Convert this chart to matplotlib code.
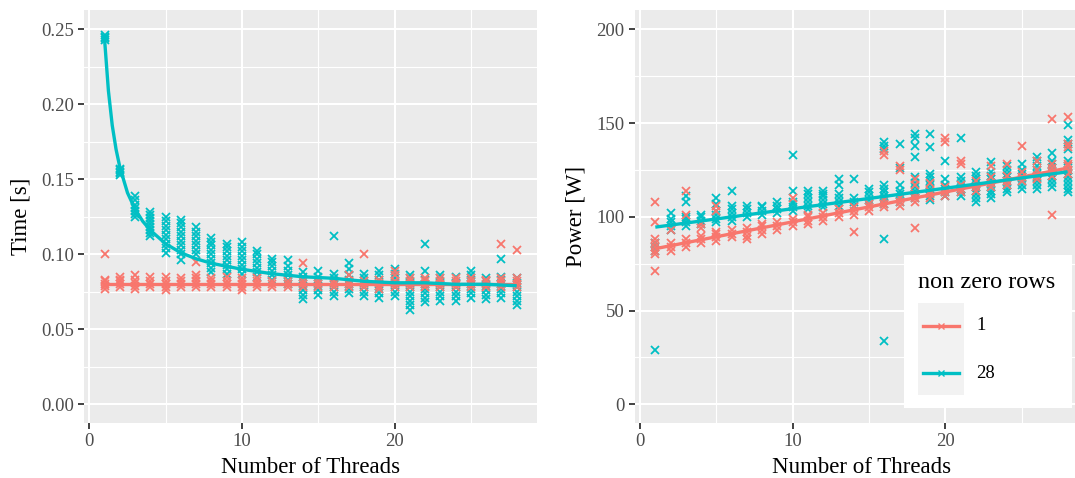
import matplotlib.pyplot as plt
import matplotlib.patches as patches
from matplotlib.lines import Line2D

# --- data ---
threads = list(range(1, 29))

# Time [s], one list of repeated measurements per thread count
time_r1 = [
    [0.077, 0.079, 0.080, 0.082, 0.083, 0.100], [0.078, 0.080, 0.082, 0.083, 0.085],
    [0.077, 0.079, 0.081, 0.083, 0.086], [0.078, 0.080, 0.082, 0.085],
    [0.076, 0.078, 0.080, 0.082, 0.085], [0.078, 0.080, 0.082, 0.084],
    [0.078, 0.080, 0.082, 0.084, 0.086, 0.095], [0.078, 0.080, 0.082, 0.084],
    [0.078, 0.080, 0.082, 0.085], [0.076, 0.078, 0.080, 0.082, 0.084],
    [0.078, 0.080, 0.082, 0.084], [0.078, 0.080, 0.082],
    [0.078, 0.080, 0.082], [0.078, 0.080, 0.082, 0.094],
    [0.078, 0.080, 0.082], [0.078, 0.080, 0.082],
    [0.078, 0.080, 0.082, 0.086], [0.078, 0.080, 0.082, 0.100],
    [0.077, 0.079, 0.081, 0.083], [0.078, 0.080, 0.082, 0.086, 0.089],
    [0.078, 0.080, 0.082, 0.084], [0.078, 0.080, 0.082, 0.084],
    [0.078, 0.080, 0.082, 0.084], [0.078, 0.080, 0.082, 0.084],
    [0.078, 0.080, 0.082, 0.084], [0.078, 0.080, 0.082, 0.083],
    [0.078, 0.080, 0.082, 0.084, 0.107], [0.078, 0.080, 0.082, 0.084, 0.103],
]
time_r28 = [
    [0.243, 0.244, 0.245, 0.246],
    [0.153, 0.154, 0.155, 0.156, 0.157],
    [0.125, 0.127, 0.129, 0.131, 0.133, 0.136, 0.139],
    [0.112, 0.114, 0.116, 0.118, 0.120, 0.122, 0.124, 0.126, 0.128],
    [0.101, 0.104, 0.107, 0.110, 0.113, 0.116, 0.119, 0.122, 0.125],
    [0.096, 0.100, 0.103, 0.106, 0.109, 0.112, 0.115, 0.118, 0.121, 0.123],
    [0.100, 0.103, 0.106, 0.109, 0.112, 0.115, 0.118],
    [0.088, 0.091, 0.094, 0.097, 0.100, 0.103, 0.106, 0.108, 0.111],
    [0.087, 0.090, 0.093, 0.096, 0.099, 0.102, 0.105, 0.107],
    [0.087, 0.090, 0.093, 0.096, 0.099, 0.102, 0.105, 0.108],
    [0.085, 0.088, 0.091, 0.094, 0.097, 0.100, 0.102],
    [0.083, 0.086, 0.089, 0.092, 0.095, 0.097],
    [0.080, 0.083, 0.086, 0.089, 0.092, 0.096],
    [0.070, 0.073, 0.076, 0.079, 0.082, 0.085, 0.088],
    [0.073, 0.076, 0.079, 0.082, 0.085, 0.089],
    [0.072, 0.075, 0.078, 0.081, 0.084, 0.087, 0.112],
    [0.074, 0.077, 0.080, 0.083, 0.086, 0.090, 0.094],
    [0.072, 0.075, 0.078, 0.081, 0.084, 0.087],
    [0.071, 0.074, 0.077, 0.080, 0.083, 0.086, 0.089],
    [0.072, 0.075, 0.078, 0.081, 0.084, 0.087, 0.090],
    [0.063, 0.066, 0.069, 0.072, 0.075, 0.078, 0.081, 0.084, 0.086],
    [0.068, 0.071, 0.074, 0.077, 0.080, 0.083, 0.089, 0.107],
    [0.069, 0.072, 0.075, 0.078, 0.081, 0.084, 0.086],
    [0.069, 0.072, 0.075, 0.078, 0.081, 0.085],
    [0.071, 0.074, 0.077, 0.080, 0.083, 0.086, 0.089],
    [0.070, 0.073, 0.076, 0.079, 0.082, 0.084],
    [0.071, 0.074, 0.077, 0.080, 0.083, 0.085, 0.097],
    [0.066, 0.069, 0.072, 0.075, 0.078, 0.081, 0.084],
]

# smooth fits for time
time_fit_x = [1, 1.25, 1.5, 1.75, 2, 2.5, 3, 3.5, 4, 5, 6, 7, 8, 9, 10,
              12, 14, 16, 18, 20, 22, 24, 26, 28]
time_fit_r28 = [0.243, 0.209, 0.186, 0.170, 0.158, 0.141, 0.130, 0.122, 0.116,
                0.107, 0.101, 0.097, 0.094, 0.092, 0.090, 0.087, 0.085, 0.084,
                0.082, 0.081, 0.081, 0.080, 0.080, 0.079]
time_fit_r1 = [0.0801] * len(time_fit_x)

# Power [W]
power_r1 = [
    [80, 82, 84, 86, 88, 97, 108, 71], [82, 84, 86, 93], [84, 86, 88, 101, 114],
    [86, 88, 90, 94, 96], [87, 89, 91, 92, 103, 106], [89, 91, 93],
    [88, 90, 92, 94], [91, 93, 95, 96], [93, 95, 97], [95, 97, 99, 110],
    [96, 98, 100, 101], [98, 100, 102], [100, 102, 104], [92, 101, 103, 105],
    [103, 105, 107], [105, 107, 109, 133, 135], [106, 108, 110, 125, 127],
    [94, 108, 110, 112, 117, 120], [110, 112, 114, 118], [111, 113, 116, 140, 142],
    [113, 115, 117, 128, 130], [114, 116, 119], [116, 118, 121, 127],
    [117, 119, 122, 128], [119, 121, 124, 138], [120, 122, 125, 130],
    [101, 122, 124, 126, 128, 152], [123, 125, 127, 128, 137, 139, 153],
]
power_r28 = [
    [82, 84, 86, 29], [93, 95, 97, 99, 102], [95, 97, 99, 100, 108, 111],
    [96, 98, 100, 101], [97, 99, 101, 103, 107, 110], [98, 100, 102, 104, 106, 114],
    [100, 102, 104, 106], [101, 103, 105, 106], [102, 104, 106, 108],
    [103, 105, 107, 108, 114, 133], [104, 106, 108, 110, 112, 114],
    [105, 107, 109, 111, 112, 114], [106, 108, 110, 112, 117, 120],
    [106, 108, 110, 120], [107, 109, 111, 113, 115],
    [107, 109, 111, 113, 115, 117, 136, 138, 140, 88, 34],
    [108, 110, 112, 114, 117, 126, 139],
    [110, 112, 114, 116, 118, 121, 132, 138, 142, 144],
    [109, 111, 113, 115, 117, 119, 121, 123, 137, 144],
    [111, 113, 115, 117, 120, 130], [111, 113, 115, 117, 119, 121, 142],
    [108, 110, 112, 114, 116, 118, 120, 122, 124],
    [110, 112, 114, 116, 118, 120, 122, 124, 129],
    [113, 115, 117, 119, 121, 123, 125, 127],
    [115, 117, 119, 121, 123, 125, 128],
    [115, 117, 119, 121, 123, 125, 127, 130, 132],
    [116, 118, 120, 122, 124, 126, 128, 130, 134],
    [113, 115, 117, 119, 121, 123, 125, 127, 130, 136, 139, 141, 149],
]
power_fit_x = [1, 28]
power_fit_r1 = [83, 126]
power_fit_r28 = [94.5, 124]

series_labels = ['1', '28']
RED, CYAN = '#F8766D', '#00BFC4'

# --- helpers ---
W, H = 1075, 478
plt.rcParams['font.family'] = ['Liberation Serif', 'DejaVu Serif']
MS, MEW = 6, 1.3


def flatten(groups):
    xs, ys = [], []
    for t, vals in zip(threads, groups):
        xs += [t] * len(vals)
        ys += vals
    return xs, ys


def style_panel(ax, xlim, ylim, yticks, yminor, ylabel, fmt):
    ax.set_facecolor('#EBEBEB')
    for s in ax.spines.values():
        s.set_visible(False)
    ax.set_xlim(*xlim)
    ax.set_ylim(*ylim)
    ax.set_xticks([0, 10, 20])
    ax.set_xticks([5, 15, 25], minor=True)
    ax.set_yticks(yticks)
    ax.set_yticks(yminor, minor=True)
    ax.set_yticklabels([fmt.format(v) for v in yticks])
    ax.grid(which='major', color='white', lw=1.5)
    ax.grid(which='minor', color='white', lw=0.8)
    ax.set_axisbelow(True)
    ax.tick_params(which='major', length=4.3, width=1.3, color='#333333',
                   labelcolor='#4D4D4D', labelsize=13.5, pad=3)
    ax.tick_params(which='minor', length=0)
    ax.set_xlabel('Number of Threads', fontsize=16.5, labelpad=5)
    ax.set_ylabel(ylabel, fontsize=16.5, labelpad=7)


def draw(ax, r1, r28, fit_x1, fit_y1, fit_x28, fit_y28):
    x28, y28 = flatten(r28)
    x1, y1 = flatten(r1)
    kw = dict(ls='none', marker='x', ms=MS, mew=MEW)
    ax.plot(x28, y28, color=CYAN, **kw)
    ax.plot(x1, y1, color=RED, **kw)
    ax.plot(fit_x1, fit_y1, color=RED, lw=2.4, solid_capstyle='butt')
    ax.plot(fit_x28, fit_y28, color=CYAN, lw=2.4, solid_capstyle='butt')


fig = plt.figure(figsize=(W / 100, H / 100), dpi=100)
top, bot = 10, 422.7
ax1 = fig.add_axes([84 / W, 1 - bot / H, (537.3 - 84) / W, (bot - top) / H])
ax2 = fig.add_axes([634.7 / W, 1 - bot / H, (1088.2 - 634.7) / W, (bot - top) / H])

style_panel(ax1, (-0.35, 29.35), (-0.0123, 0.2629),
            [0, 0.05, 0.10, 0.15, 0.20, 0.25], [0.025, 0.075, 0.125, 0.175, 0.225],
            'Time [s]', '{:.2f}')
draw(ax1, time_r1, time_r28, time_fit_x, time_fit_r1, time_fit_x, time_fit_r28)

style_panel(ax2, (-0.35, 29.35), (-9.8, 210.3),
            [0, 50, 100, 150, 200], [25, 75, 125, 175],
            'Power [W]', '{:.0f}')
draw(ax2, power_r1, power_r28, power_fit_x, power_fit_r1, power_fit_x, power_fit_r28)

# --- legend drawn inside the right panel (figure pixel coords) ---
def px(x, y):
    return x / W, 1 - y / H

fig.patches.append(patches.Rectangle(px(904, 408), (1072 - 904) / W, (408 - 255) / H,
                                     transform=fig.transFigure, facecolor='white',
                                     edgecolor='none', zorder=5))
fig.patches.append(patches.Rectangle(px(918, 395), (964 - 918) / W, (395 - 303) / H,
                                     transform=fig.transFigure, facecolor='#F2F2F2',
                                     edgecolor='none', zorder=6))
fig.text(*px(918, 282), 'non zero rows', fontsize=17.5, va='center', ha='left', zorder=7)
for yk, col, lab in zip([326, 373], [RED, CYAN], series_labels):
    fig.add_artist(Line2D([922.7 / W, 959 / W], [1 - yk / H] * 2, color=col, lw=2.4,
                          zorder=7))
    fig.add_artist(Line2D([941 / W], [1 - yk / H], color=col, marker='x', ms=MS - 1,
                          mew=1.0, ls='none', zorder=8))
    fig.text(*px(976, yk), lab, fontsize=13.5, va='center', ha='left', zorder=7)

fig.savefig('out.png', dpi=100)
